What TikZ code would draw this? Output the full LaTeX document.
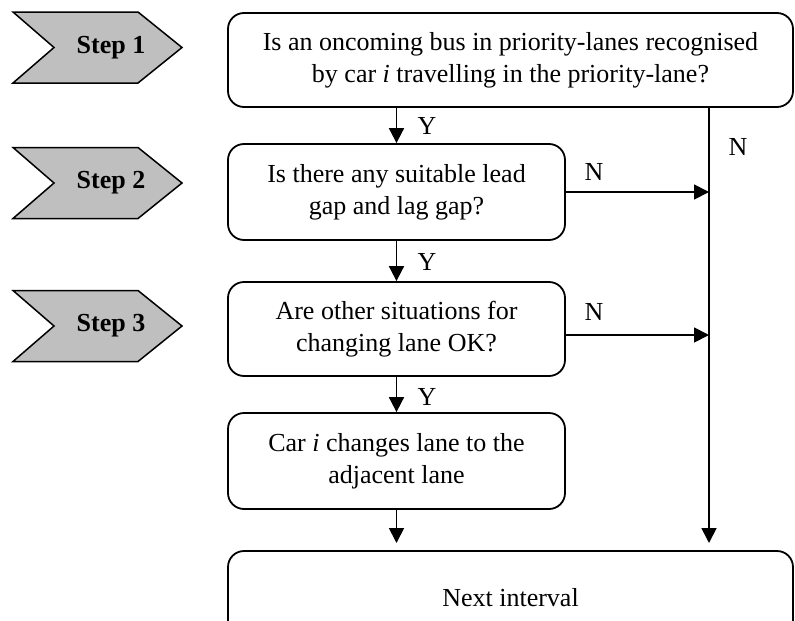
\documentclass[tikz,border=0pt]{standalone}
\usepackage{fontspec}
\setmainfont{Liberation Serif}
\usetikzlibrary{arrows.meta}
\begin{document}
\begin{tikzpicture}[x=1pt,y=-1pt,
  box/.style={draw, line width=1.8pt, rounded corners=16pt, align=center,
    font=\fontsize{26}{32}\selectfont, inner sep=0pt},
  arr/.style={line width=1.8pt, -{Triangle[length=15pt,width=15pt]}},
  lab/.style={font=\fontsize{26}{32}\selectfont, inner sep=0pt},
  chev/.style={draw, line width=1.5pt, fill=black!25, line join=miter},
  steplab/.style={font=\bfseries\fontsize{26}{32}\selectfont, inner sep=0pt}]
\useasboundingbox (0,0) rectangle (795,621);
\clip (0,0) rectangle (795,621);
% step chevrons
\foreach \cy/\n in {47.5/1,183/2,326/3} {
  \draw[chev] (13,\cy-35.5) -- (138,\cy-35.5) -- (182,\cy) -- (138,\cy+35.5)
     -- (13,\cy+35.5) -- (54,\cy) -- cycle;
  \node[steplab] (step\n) at (111,\cy) {Step \n};
}
% boxes
\node[box, minimum width=565pt, minimum height=94pt] (q1) at (510.5,60)
  {Is an oncoming bus in priority-lanes recognised\\ by car \textit{i} travelling in the priority-lane?};
\node[box, minimum width=337pt, minimum height=96pt] (q2) at (396.5,192)
  {Is there any suitable lead\\ gap and lag gap?};
\node[box, minimum width=337pt, minimum height=94pt] (q3) at (396.5,329)
  {Are other situations for\\ changing lane OK?};
\node[box, minimum width=337pt, minimum height=96pt] (act) at (396.5,461)
  {Car \textit{i} changes lane to the\\ adjacent lane};
\node[box, minimum width=565pt, minimum height=94pt] (nxt) at (510.5,598)
  {Next interval};
% connectors
\coordinate (vx) at (709,0);
\coordinate (vend) at (709,543);
\coordinate (aend) at (396.5,543);
\draw[arr] (q1.south -| q2.north) -- (q2.north);
\draw[arr] (q2) -- (q3);
\draw[arr] (q3) -- (act);
\draw[arr] (act) -- (aend);
\draw[arr] (q1.south -| vx) -- (vend);
\draw[arr] (q2.east) -- (q2.east -| vx);
\draw[arr] ([yshift=-6pt]q3.east) -- ([yshift=-6pt]q3.east -| vx);
% labels
\node[lab] (y1) at (427,126) {Y};
\node[lab] (y2) at (427,262) {Y};
\node[lab] (y3) at (427,397) {Y};
\node[lab] (n1) at (738,147) {N};
\node[lab] (n2) at (594,172) {N};
\node[lab] (n3) at (594,312) {N};
\end{tikzpicture}
\end{document}
